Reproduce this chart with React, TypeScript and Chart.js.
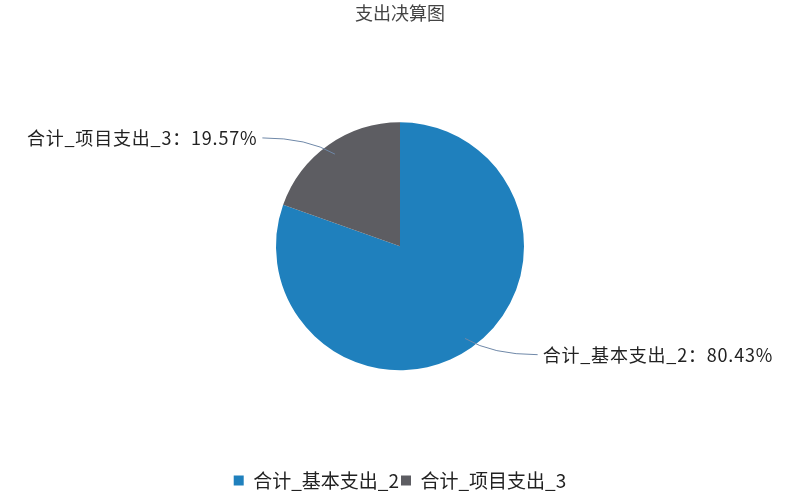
import { useEffect, useRef } from "react";
import Chart from "chart.js/auto";

const FONT = "'Noto Sans CJK SC', 'Noto Sans', sans-serif";

const TITLE = "支出决算图";
const LABELS = ["合计_基本支出_2", "合计_项目支出_3"];
const VALUES = [80.43, 19.57];
const COLORS = ["#1f80bd", "#5d5d62"];

// 外部标签 + 弯曲引线
const leaderLabels = {
  id: "leaderLabels",
  afterDatasetsDraw(chart: any) {
    const { ctx } = chart;
    const meta = chart.getDatasetMeta(0);
    const total = VALUES.reduce((a, b) => a + b, 0);
    ctx.save();
    ctx.font = `18px ${FONT}`;
    (ctx as any).letterSpacing = "0.8px";
    ctx.textBaseline = "middle";
    meta.data.forEach((arc: any, i: number) => {
      const { x, y, outerRadius: r, startAngle, endAngle } = arc.getProps(["x", "y", "outerRadius", "startAngle", "endAngle"], true);
      const mid = (startAngle + endAngle) / 2;
      const dx = Math.cos(mid);
      const dy = Math.sin(mid);
      const sx = x + dx * r * 0.91;
      const sy = y + dy * r * 0.91;
      const side = dx >= 0 ? 1 : -1;
      const ex = x + side * r * 1.11;
      const ey = y + dy * r * 1.07;
      ctx.strokeStyle = "#6f88a8";
      ctx.lineWidth = 1;
      ctx.beginPath();
      ctx.moveTo(sx, sy);
      ctx.quadraticCurveTo(sx + side * r * 0.22, ey, ex, ey);
      ctx.stroke();
      const pct = ((VALUES[i] / total) * 100).toFixed(2);
      ctx.fillStyle = "#222";
      ctx.textAlign = side > 0 ? "left" : "right";
      ctx.fillText(`${LABELS[i]}：${pct}%`, ex + side * 5, ey);
    });
    ctx.restore();
  },
};

export default function App() {
  const ref = useRef<HTMLCanvasElement>(null);
  useEffect(() => {
    document.body.style.margin = "0";
    if (!ref.current) return;
    const chart = new Chart(ref.current, {
      type: "pie",
      data: {
        labels: LABELS,
        datasets: [{ data: VALUES, backgroundColor: COLORS, borderWidth: 0, radius: 124 }],
      },
      options: {
        animation: false,
        responsive: true,
        maintainAspectRatio: false,
        plugins: {
          title: { display: true, text: TITLE, color: "#444", font: { family: FONT, size: 18, weight: "normal" }, padding: { top: 2, bottom: 0 } },
          legend: {
            position: "bottom",
            labels: { boxWidth: 10, boxHeight: 10, padding: 2, color: "#222", font: { family: FONT, size: 19 } },
          },
          tooltip: { enabled: false },
        },
      },
      plugins: [leaderLabels],
    });
    return () => chart.destroy();
  }, []);
  return (
    <div style={{ position: "relative", width: 800, height: 500, background: "#fff" }}>
      <canvas ref={ref} />
    </div>
  );
}
